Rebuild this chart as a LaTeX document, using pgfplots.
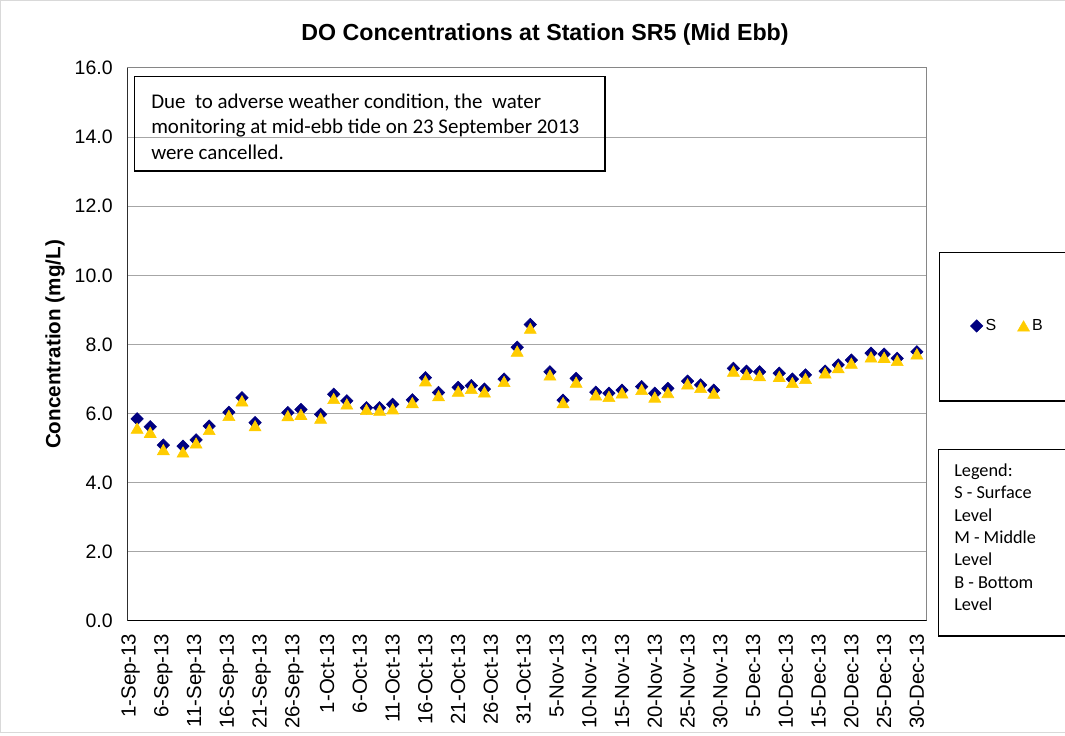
\documentclass[border=0pt]{standalone}
\usepackage{fontspec}
\setmainfont{Liberation Sans}
\newfontfamily\calibri{Carlito}
\usepackage{pgfplots}
\pgfplotsset{compat=1.18}
\usepackage{pgfplotstable}
\definecolor{navyS}{RGB}{0,0,128}
\definecolor{yellB}{RGB}{255,204,0}
\definecolor{gridg}{RGB}{166,166,166}
\definecolor{frameg}{RGB}{134,134,134}

% day 0 = 1-Sep-2013
\pgfplotstableread{
day S B
1 5.85 5.58
3 5.62 5.46
5 5.09 4.96
8 5.06 4.89
10 5.24 5.15
12 5.64 5.54
15 6.04 5.95
17 6.46 6.37
19 5.74 5.65
24 6.03 5.94
26 6.12 5.98
29 5.98 5.87
31 6.56 6.44
33 6.37 6.28
36 6.17 6.12
38 6.17 6.10
40 6.27 6.14
43 6.40 6.32
45 7.04 6.95
47 6.61 6.52
50 6.76 6.65
52 6.81 6.73
54 6.71 6.63
57 7.00 6.93
59 7.92 7.81
61 8.58 8.47
64 7.21 7.12
66 6.39 6.32
68 7.02 6.91
71 6.62 6.54
73 6.59 6.50
75 6.68 6.60
78 6.78 6.70
80 6.59 6.48
82 6.73 6.61
85 6.94 6.86
87 6.83 6.76
89 6.68 6.59
92 7.31 7.23
94 7.23 7.13
96 7.21 7.10
99 7.17 7.08
101 7.00 6.90
103 7.12 7.02
106 7.23 7.18
108 7.41 7.33
110 7.55 7.46
113 7.75 7.64
115 7.72 7.63
117 7.60 7.54
120 7.79 7.73
}\dodata

\begin{document}
\begin{tikzpicture}[x=0.75pt,y=0.75pt]
\useasboundingbox (0,0) rectangle (1065,736);
\draw[gray!30, line width=0.75pt] (0.5,3) rectangle (1075,735.5);
\begin{axis}[
 at={(95.475pt,86.25pt)}, anchor=south west,
 scale only axis, width=599.55pt, height=414.75pt,
 xmin=-0.5, xmax=121.5, ymin=0, ymax=16,
 xtick={0,5,...,120},
 xticklabels={1-Sep-13,6-Sep-13,11-Sep-13,16-Sep-13,21-Sep-13,26-Sep-13,1-Oct-13,6-Oct-13,11-Oct-13,16-Oct-13,21-Oct-13,26-Oct-13,31-Oct-13,5-Nov-13,10-Nov-13,15-Nov-13,20-Nov-13,25-Nov-13,30-Nov-13,5-Dec-13,10-Dec-13,15-Dec-13,20-Dec-13,25-Dec-13,30-Dec-13},
 ytick={0,2,...,16},
 ymajorgrids, grid style={gridg, line width=0.75pt},
 major tick length=0pt,
 axis line style={frameg, line width=0.75pt},
 yticklabel style={font=\fontsize{14.6}{16}\selectfont, /pgf/number format/fixed, /pgf/number format/fixed zerofill, /pgf/number format/precision=1},
 xticklabel style={font=\fontsize{15.3}{17}\selectfont, rotate=90, anchor=east},
 xticklabel shift=6pt,
 yticklabel shift=7.5pt,
 /pgf/number format/assume math mode=true,
 title={DO Concentrations at Station SR5 (Mid Ebb)},
 title style={at={(axis description cs:0.5225,1.047)}, anchor=center, font=\bfseries\fontsize{17.4}{20}\selectfont},
 ylabel={Concentration (mg/L)},
 ylabel style={at={(axis description cs:-0.0904,0.5)}, anchor=center, font=\bfseries\fontsize{15.5}{18}\selectfont},
 legend style={at={(axis description cs:1.1017,0.5335)}, anchor=center, draw=none, fill=none, font=\fontsize{12}{14}\selectfont, legend columns=2, /tikz/every even column/.append style={column sep=14pt}},
 legend image code/.code={\path (0,0) (0.25cm,0); \draw[#1] plot coordinates {(0.15cm,0cm)};},
]
\draw[black, line width=1.1pt] (rel axis cs:0,1) -- (rel axis cs:0,0) -- (rel axis cs:1,0);
\addplot[only marks, color=navyS, mark=square*, mark size=3.3pt, mark options={rotate=45, fill=navyS, draw=navyS}] table[x=day,y=S]{\dodata};
\addlegendentry{S}
\addplot[only marks, color=yellB, mark=triangle*, mark size=5.2pt, mark options={yshift=-1.3pt, fill=yellB, draw=yellB}] table[x=day,y=B]{\dodata};
\addlegendentry{B}
\end{axis}
\draw[black, line width=1pt] (134.5,659.5) rectangle (605,565);
\node[anchor=west, align=left, inner sep=0pt, font=\calibri\fontsize{15.7}{19.1}\selectfont] at (151,609.5) {Due\ \ to adverse weather condition, the\ \ water\\monitoring at mid-ebb tide on 23 September 2013\\were cancelled.};
\draw[black, line width=1pt] (939.3,483.3) rectangle (1080,335);
\draw[black, line width=1pt] (938.3,286.7) rectangle (1080,100);
\node[anchor=west, align=left, inner sep=0pt, font=\calibri\fontsize{13.7}{16.8}\selectfont] at (954,198.8) {Legend:\\S - Surface\\Level\\M - Middle\\Level\\B - Bottom\\Level};
\end{tikzpicture}
\end{document}
